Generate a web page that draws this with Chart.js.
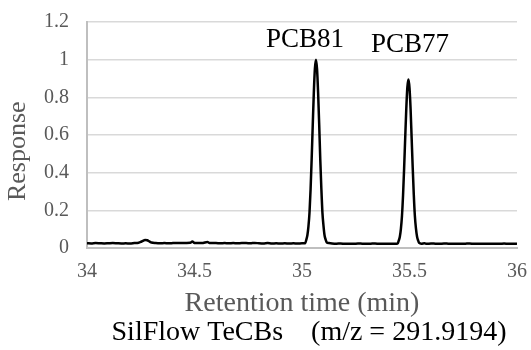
<!DOCTYPE html>
<html><head><meta charset="utf-8">
<script src="https://cdn.jsdelivr.net/npm/chart.js@4/dist/chart.umd.min.js"></script>
<style>html,body{margin:0;padding:0;background:#fff;}</style>
</head><body>
<canvas id="c" width="531" height="350"></canvas>
<script>
const retentionTimes = [
 34.00,34.02,34.04,34.06,34.08,34.10,34.12,34.14,34.16,34.18,34.20,34.22,34.24,34.25,34.26,34.27,34.28,34.29,34.30,34.32,
 34.34,34.36,34.38,34.40,34.42,34.44,34.46,34.48,34.49,34.50,34.52,34.54,34.56,34.57,34.60,34.62,34.64,34.66,34.68,34.70,
 34.72,34.74,34.76,34.78,34.80,34.82,34.84,34.86,34.88,34.90,34.92,34.94,34.96,34.98,35.00,35.01,
 35.015,35.020,35.025,35.030,35.035,35.040,35.045,35.050,35.055,35.060,35.065,35.070,35.075,35.080,35.085,35.090,35.095,35.100,35.105,35.110,35.115,35.125,
 35.14,35.16,35.18,35.20,35.22,35.24,35.26,35.28,35.30,35.32,35.34,35.36,35.38,35.40,35.42,35.435,
 35.445,35.450,35.455,35.460,35.465,35.470,35.475,35.480,35.485,35.490,35.495,35.500,35.505,35.510,35.515,35.520,35.525,35.530,35.535,35.540,35.545,35.555,
 35.57,35.58,35.60,35.62,35.64,35.66,35.68,35.70,35.72,35.74,35.76,35.78,35.80,35.82,35.84,35.86,35.88,35.90,35.92,35.94,35.96,35.98,36.00
];
const responses = [
 0.025,0.024,0.026,0.025,0.024,0.025,0.026,0.025,0.024,0.025,0.024,0.026,0.028,0.032,0.038,0.042,0.041,0.035,0.029,0.026,
 0.025,0.026,0.025,0.026,0.027,0.026,0.027,0.028,0.034,0.027,0.026,0.027,0.032,0.027,0.026,0.025,0.026,0.025,0.026,0.025,
 0.026,0.026,0.025,0.027,0.025,0.024,0.026,0.024,0.025,0.024,0.025,0.024,0.025,0.024,0.025,0.025,
 0.026,0.044,0.068,0.115,0.190,0.313,0.474,0.653,0.825,0.953,1.000,0.950,0.822,0.655,0.470,0.316,0.188,0.117,0.066,0.045,0.030,0.026,
 0.024,0.023,0.024,0.022,0.023,0.022,0.024,0.023,0.022,0.023,0.024,0.022,0.023,0.022,0.023,0.022,
 0.024,0.039,0.060,0.102,0.171,0.280,0.423,0.584,0.738,0.853,0.895,0.851,0.740,0.582,0.425,0.282,0.170,0.104,0.061,0.040,0.027,0.023,
 0.025,0.022,0.024,0.023,0.022,0.024,0.023,0.022,0.023,0.022,0.023,0.024,0.022,0.023,0.022,0.023,0.022,0.023,0.022,0.024,0.022,0.023,0.022
];
const xTickValues = [34, 34.5, 35, 35.5, 36];
const xTickLabels = ['34', '34.5', '35', '35.5', '36'];
const yTickValues = [0, 0.2, 0.4, 0.6, 0.8, 1, 1.2];
const yTickLabels = ['0', '0.2', '0.4', '0.6', '0.8', '1', '1.2'];
const peakNames = ['PCB81', 'PCB77'];
const peakLabelTimes = [35.014, 35.502];
const peakLabelResponses = [1.067, 1.041];

const SERIF = '"Liberation Serif", "Times New Roman", serif';
const GRAY = '#595959';

const points = retentionTimes.map((t, i) => ({x: t, y: responses[i]}));

const peakLabelPlugin = {
  id: 'peakLabels',
  afterDatasetsDraw(chart) {
    const {ctx, scales: {x, y}} = chart;
    ctx.save();
    ctx.font = '27px ' + SERIF;
    ctx.fillStyle = '#000';
    ctx.textAlign = 'center';
    ctx.textBaseline = 'alphabetic';
    peakNames.forEach((n, i) => {
      ctx.fillText(n, x.getPixelForValue(peakLabelTimes[i]), y.getPixelForValue(peakLabelResponses[i]));
    });
    ctx.restore();
  }
};

new Chart(document.getElementById('c'), {
  type: 'line',
  data: {
    datasets: [{
      data: points,
      borderColor: '#000',
      borderWidth: 2.5,
      pointRadius: 0,
      fill: false,
      cubicInterpolationMode: 'monotone',
      tension: 0.4
    }]
  },
  options: {
    responsive: false,
    animation: false,
    devicePixelRatio: 1,
    layout: {padding: {top: 22, right: 14, left: 0, bottom: 0}},
    plugins: {
      legend: {display: false},
      tooltip: {enabled: false},
      title: {
        display: true,
        position: 'bottom',
        fullSize: false,
        text: '  SilFlow TeCBs    (m/z = 291.9194)',
        color: '#000',
        font: {family: SERIF, size: 28, weight: 'normal', lineHeight: 1},
        padding: {top: 0, bottom: 3.5}
      }
    },
    scales: {
      x: {
        type: 'linear',
        min: 34, max: 36,
        afterBuildTicks: s => { s.ticks = xTickValues.map(v => ({value: v})); },
        afterFit: s => { s.height = 70.5; s.paddingLeft = 0; s.paddingRight = 0; },
        ticks: {
          callback: v => xTickLabels[xTickValues.indexOf(v)],
          color: GRAY,
          font: {family: SERIF, size: 20},
          padding: 12,
          maxRotation: 0,
          autoSkip: false
        },
        grid: {color: 'rgba(0,0,0,0)', drawTicks: false},
        border: {display: true, color: '#bfbfbf', width: 2},
        title: {
          display: true,
          text: 'Retention time (min)',
          color: GRAY,
          font: {family: SERIF, size: 28, lineHeight: 1},
          padding: {top: 0, bottom: 0.5}
        }
      },
      y: {
        min: 0, max: 1.2,
        afterBuildTicks: s => { s.ticks = yTickValues.map(v => ({value: v})); },
        afterFit: s => { s.width = 87; s.paddingTop = 0; s.paddingBottom = 0; },
        ticks: {
          callback: v => yTickLabels[yTickValues.indexOf(v)],
          color: GRAY,
          font: {family: SERIF, size: 20},
          padding: 18
        },
        grid: {color: '#d9d9d9', lineWidth: 1.5, drawTicks: false},
        border: {display: true, color: '#bfbfbf', width: 2},
        title: {
          display: true,
          text: 'Response     ',
          color: GRAY,
          font: {family: SERIF, size: 26, lineHeight: 1},
          padding: {top: 5, bottom: 0}
        }
      }
    }
  },
  plugins: [peakLabelPlugin]
});
</script>
</body></html>
